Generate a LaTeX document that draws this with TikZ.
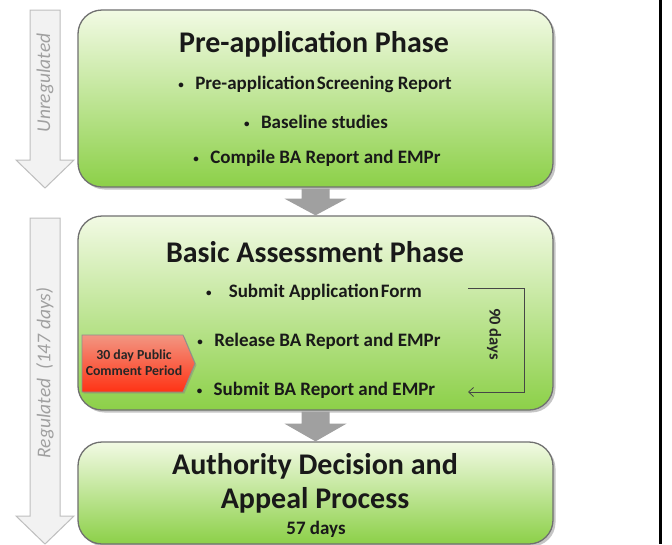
\documentclass[tikz,border=0pt]{standalone}
\usepackage{fontspec}
\setmainfont{Carlito}
\usetikzlibrary{shadows,arrows.meta,calc}
\definecolor{greenTop}{RGB}{242,250,228}
\definecolor{greenBot}{RGB}{140,208,72}
\definecolor{boxBorder}{RGB}{112,112,112}
\definecolor{sideFill}{RGB}{242,242,242}
\definecolor{sideLine}{RGB}{190,190,190}
\definecolor{sideText}{RGB}{160,160,160}
\definecolor{connFill}{RGB}{160,160,160}
\definecolor{redTop}{RGB}{242,150,130}
\definecolor{redBot}{RGB}{255,50,20}
\definecolor{bracketCol}{RGB}{70,70,70}
\newcommand{\smbul}{{\fontsize{11}{11}\selectfont\raisebox{0.15ex}{•}}}
\tikzset{
  phasebox/.style={draw=boxBorder, line width=1.3pt, rounded corners=24pt,
    top color=greenTop, bottom color=greenBot, minimum width=475pt,
    drop shadow={shadow xshift=2.5pt, shadow yshift=-2.5pt, opacity=0.45}},
  sidearrow/.style={fill=sideFill, draw=sideLine, line width=1pt},
  sidetext/.style={text=sideText, font=\itshape\fontsize{19.5}{22}\selectfont, rotate=90},
  title/.style={font=\bfseries\fontsize{30}{34}\selectfont, text=black!90},
  bullet/.style={font=\bfseries\fontsize{19}{21}\selectfont, text=black!90},
  conn/.style={fill=connFill},
  redflag/.style={draw=boxBorder!80, line width=0.8pt, top color=redTop, bottom color=redBot,
    drop shadow={shadow xshift=1.5pt, shadow yshift=-1.5pt, opacity=0.4}},
  flagtext/.style={font=\bfseries\fontsize{13.8}{16}\selectfont, align=center, text=black!85},
  bracket/.style={draw=bracketCol, line width=0.8pt},
  daystext/.style={font=\bfseries\fontsize{16.5}{18}\selectfont, rotate=-90, text=black!85}
}
\begin{document}
\begin{tikzpicture}[x=1pt,y=-1pt]
\useasboundingbox (0,0) rectangle (672,544);
\fill[white] (0,0) rectangle (672,544);

% side arrows
\path[sidearrow] (30,10) -- (60,10) -- (60,160) -- (74,160) -- (45,188) -- (16,160) -- (30,160) -- cycle;
\node[sidetext] (unreg) at (45,83) {Unregulated};
\path[sidearrow] (30,218) -- (60,218) -- (60,516) -- (74,516) -- (45,544) -- (16,516) -- (30,516) -- cycle;
\node[sidetext] (reg) at (45,373) {Regulated\ \ (147 days)};

% phase boxes
\node[phasebox, minimum height=177pt] (b1) at (315.5,98.5) {};
\node[phasebox, minimum height=194pt] (b2) at (315.5,313) {};
\node[phasebox, minimum height=102pt] (b3) at (315.5,493) {};

% connectors
\fill[conn] ($(b1.south)+(-14,1)$) -- ($(b1.south)+(14,1)$) -- ($(b1.south)+(14,11)$) -- ($(b1.south)+(31,11)$)
  -- (b2.north) -- ($(b1.south)+(-31,11)$) -- ($(b1.south)+(-14,11)$) -- cycle;
\fill[conn] ($(b2.south)+(-14,1)$) -- ($(b2.south)+(14,1)$) -- ($(b2.south)+(14,13)$) -- ($(b2.south)+(31,13)$)
  -- (b3.north) -- ($(b2.south)+(-31,13)$) -- ($(b2.south)+(-14,13)$) -- cycle;

% box 1 text
\node[title] (t1) at (314,44) {Pre-application Phase};
\node[bullet] (p1) at (315,84) {\smbul\hspace{0.6em}Pre-application\hspace{0.1em}Screening Report};
\node[bullet] (p2) at (316,122) {\smbul\hspace{0.6em}Baseline studies};
\node[bullet] (p3) at (317,158) {\smbul\hspace{0.6em}Compile BA Report and EMPr};

% box 2 text
\node[title] (t2) at (315,252) {Basic Assessment Phase};
\node[bullet] (s1) at (314,292) {\smbul\hspace{0.9em}Submit Application\hspace{0.1em}Form};
\node[bullet] (s2) at (319,341) {\smbul\hspace{0.6em}Release BA Report and EMPr};
\node[bullet] (s3) at (316,390) {\smbul\hspace{0.6em}Submit BA Report and EMPr};

% red flag
\path[redflag] (82,335) -- (183,335) -- (195,363.5) -- (183,392) -- (82,392) -- cycle;
\node[flagtext] (flag) at (134,363) {30 day Public\\Comment Period};

% 90 days bracket
\coordinate (bkA) at (468,288);
\coordinate (bkB) at (468,392);
\draw[bracket, -{Straight Barb[length=5pt,width=9pt]}] (bkA) -- (524,288) -- (524,392) -- (bkB);
\node[daystext] (d90) at (494,334) {90 days};

% box 3 text
\node[title] (t3a) at (315,466) {Authority Decision and};
\node[title] (t3b) at (315,500) {Appeal Process};
\node[bullet] (t3c) at (316,529) {57 days};

% right edge line
\draw[line width=3pt, black] (660.5,0) -- (660.5,544);
\end{tikzpicture}
\end{document}
